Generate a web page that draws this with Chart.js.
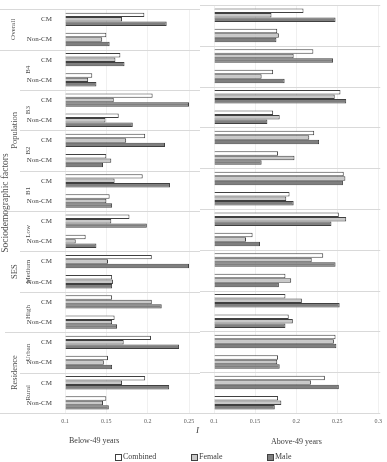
<!DOCTYPE html>
<html>
<head>
<meta charset="utf-8">
<script src="https://cdn.jsdelivr.net/npm/chart.js@4.4.1/dist/chart.umd.min.js"></script>
<style>
  body { margin: 0; background: #fff; font-family: "Liberation Serif", serif; color: #404040; }
  #wrap { position: relative; width: 387px; height: 462px; overflow: hidden; }
  canvas { position: absolute; top: 0; }
  .txt { position: absolute; white-space: nowrap; font-size: 8px; line-height: 10px; }
  .key { position: absolute; width: 5px; height: 5px; border: 1px solid #404040; }
</style>
</head>
<body>
<div id="wrap">
  <canvas id="below" width="200" height="462" style="left:0"></canvas>
  <canvas id="above" width="187" height="462" style="left:200px"></canvas>
  <div class="txt" style="left:196px;top:425px;font-style:italic;font-size:9px">I</div>
  <div class="txt" style="left:69px;top:436px">Below-49 years</div>
  <div class="txt" style="left:271px;top:437px">Above-49 years</div>
  <div class="key" style="left:115px;top:454px;background:#ffffff"></div>
  <div class="txt" style="left:123px;top:452px">Combined</div>
  <div class="key" style="left:191px;top:454px;background:#c8c8c8"></div>
  <div class="txt" style="left:199px;top:452px">Female</div>
  <div class="key" style="left:267px;top:454px;background:#7f7f7f"></div>
  <div class="txt" style="left:275px;top:452px">Male</div>
</div>
<script>
const rowLabels = ['CM', 'Non-CM', 'CM', 'Non-CM', 'CM', 'Non-CM', 'CM', 'Non-CM', 'CM', 'Non-CM',
  'CM', 'Non-CM', 'CM', 'Non-CM', 'CM', 'Non-CM', 'CM', 'Non-CM', 'CM', 'Non-CM'];
const subgroupLabels = ['Overall', 'B4', 'B3', 'B2', 'B1', 'Low', 'Medium', 'High', 'Urban', 'Rural'];
const groupLabels = ['Population', 'SES', 'Residence'];
const groupFirst = [1, 5, 8];
const groupLast = [4, 7, 9];
const sideTitle = 'Sociodemographic factors';
const seriesNames = ['Combined', 'Female', 'Male'];

const belowCombined = [0.196, 0.150, 0.167, 0.133, 0.206, 0.165, 0.197, 0.150, 0.194, 0.154,
  0.178, 0.125, 0.205, 0.157, 0.157, 0.160, 0.204, 0.152, 0.197, 0.150];
const belowFemale = [0.169, 0.145, 0.161, 0.128, 0.159, 0.149, 0.174, 0.156, 0.160, 0.150,
  0.156, 0.113, 0.152, 0.158, 0.205, 0.157, 0.171, 0.147, 0.169, 0.146];
const belowMale = [0.223, 0.154, 0.172, 0.138, 0.250, 0.182, 0.221, 0.146, 0.227, 0.157,
  0.199, 0.138, 0.250, 0.157, 0.217, 0.163, 0.238, 0.157, 0.226, 0.153];

const aboveCombined = [0.209, 0.177, 0.221, 0.172, 0.254, 0.172, 0.222, 0.178, 0.258, 0.192,
  0.252, 0.147, 0.233, 0.187, 0.187, 0.191, 0.248, 0.178, 0.235, 0.178];
const aboveFemale = [0.170, 0.179, 0.197, 0.158, 0.247, 0.180, 0.216, 0.198, 0.260, 0.188,
  0.261, 0.139, 0.219, 0.194, 0.207, 0.196, 0.246, 0.177, 0.218, 0.182];
const aboveMale = [0.248, 0.176, 0.245, 0.186, 0.261, 0.165, 0.228, 0.158, 0.257, 0.197,
  0.243, 0.156, 0.248, 0.179, 0.253, 0.187, 0.249, 0.180, 0.252, 0.174];

const belowRange = [0.1, 0.25];
const aboveRange = [0.1, 0.3];
const tickStep = 0.05;

const fills = ['#ffffff', '#c8c8c8', '#7f7f7f'];
const SEP = '#d9d9d9';
const FONT = '"Liberation Serif", serif';

function datasets(values) {
  return values.map((data, i) => ({
    label: seriesNames[i],
    data,
    base: 0.1,
    backgroundColor: fills[i],
    borderColor: '#404040',
    borderWidth: 1,
    categoryPercentage: 0.66,
    barPercentage: 1
  }));
}

function rowEdge(y, k) {
  const half = (y.getPixelForValue(1) - y.getPixelForValue(0)) / 2;
  return Math.round(y.getPixelForValue(k) - half) + 0.5;
}

function sepStart(s) {
  if (s <= 1 || s === subgroupLabels.length) return 0;
  if (groupFirst.includes(s)) return 5;
  return 20;
}

function rotated(ctx, text, x, y, size) {
  ctx.save();
  ctx.translate(x, y);
  ctx.rotate(-Math.PI / 2);
  ctx.font = size + 'px ' + FONT;
  ctx.fillStyle = '#505050';
  ctx.textAlign = 'center';
  ctx.textBaseline = 'middle';
  ctx.fillText(text, 0, 0);
  ctx.restore();
}

const leftDecor = {
  id: 'leftDecor',
  afterDraw(chart) {
    const { ctx, scales: { y } } = chart;
    ctx.save();
    ctx.strokeStyle = SEP;
    ctx.lineWidth = 1;
    for (let s = 0; s <= subgroupLabels.length; s++) {
      const py = rowEdge(y, s * 2);
      ctx.beginPath();
      ctx.moveTo(sepStart(s), py);
      ctx.lineTo(chart.width, py);
      ctx.stroke();
    }
    ctx.restore();
    subgroupLabels.forEach((label, s) => {
      const cy = (y.getPixelForValue(2 * s) + y.getPixelForValue(2 * s + 1)) / 2;
      rotated(ctx, label, s === 0 ? 13 : 28, cy, 7);
    });
    groupLabels.forEach((label, g) => {
      const cy = (y.getPixelForValue(2 * groupFirst[g]) + y.getPixelForValue(2 * groupLast[g] + 1)) / 2;
      rotated(ctx, label, 15, cy, 8.5);
    });
    rotated(ctx, sideTitle, 5, 203, 9.5);
  }
};

const rightDecor = {
  id: 'rightDecor',
  afterDraw(chart) {
    const { ctx, chartArea, scales: { y } } = chart;
    ctx.save();
    ctx.strokeStyle = SEP;
    ctx.lineWidth = 1;
    for (let s = 0; s <= subgroupLabels.length; s++) {
      const py = rowEdge(y, s * 2);
      ctx.beginPath();
      ctx.moveTo(0, py);
      ctx.lineTo(chartArea.right + 2, py);
      ctx.stroke();
    }
    ctx.restore();
  }
};

function makeChart(id, values, range, padding, showRows, plugin) {
  return new Chart(document.getElementById(id), {
    type: 'bar',
    data: { labels: rowLabels, datasets: datasets(values) },
    options: {
      indexAxis: 'y',
      responsive: false,
      animation: false,
      devicePixelRatio: 1,
      layout: { padding },
      plugins: { legend: { display: false }, tooltip: { enabled: false } },
      scales: {
        x: {
          min: range[0],
          max: range[1],
          grid: { color: '#f0f0f0', drawTicks: false },
          border: { display: false },
          ticks: {
            stepSize: tickStep,
            padding: 5,
            color: '#595959',
            font: { family: FONT, size: 6 },
            callback: (v) => String(+v.toFixed(2))
          },
          afterFit: (scale) => { scale.height = 49; }
        },
        y: {
          display: showRows,
          grid: { display: false },
          border: { display: false },
          ticks: { padding: 5, color: '#404040', font: { family: FONT, size: 7 } },
          afterFit: (scale) => { scale.width = showRows ? 65 : 0; }
        }
      }
    },
    plugins: [plugin]
  });
}

makeChart('below', [belowCombined, belowFemale, belowMale], belowRange,
  { top: 5, left: 0, right: 11, bottom: 0 }, true, leftDecor);
makeChart('above', [aboveCombined, aboveFemale, aboveMale], aboveRange,
  { top: 5, left: 14, right: 7, bottom: 0 }, false, rightDecor);
</script>
</body>
</html>
